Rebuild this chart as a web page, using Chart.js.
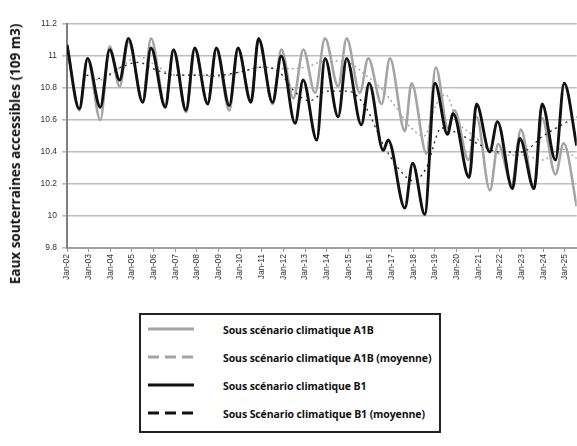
<!DOCTYPE html>
<html><head><meta charset="utf-8">
<script src="https://cdn.jsdelivr.net/npm/chart.js@4/dist/chart.umd.min.js"></script>
<style>
body{margin:0;width:577px;height:446px;background:#fff;position:relative;overflow:hidden;font-family:'Open Sans',sans-serif}
#wrap{position:absolute;left:0;top:0;width:577px;height:300px}
#ytitle{position:absolute;left:15px;top:154px;transform:translate(-50%,-50%) rotate(-90deg);white-space:nowrap;font-weight:700;font-size:13.5px;color:#111}
#legend{position:absolute;left:139px;top:313px;width:298px;height:116px;border:2px solid #222;background:#fff}
.row{position:absolute;left:0;width:298px;height:20px}
.row svg{position:absolute;left:7px;top:4px}
.row span{position:absolute;left:82px;top:2px;font-weight:700;font-size:10.5px;letter-spacing:-0.1px;color:#111;white-space:nowrap}
</style>
</head><body>
<div id="wrap"><canvas id="c" width="577" height="300"></canvas></div>
<div id="ytitle">Eaux souterraines accessibles (109 m3)</div>
<div id="legend"></div>
<script>
// ---- data (decimal years, values in 10^9 m3) ----
const tickLabels = ['Jan-02','Jan-03','Jan-04','Jan-05','Jan-06','Jan-07','Jan-08','Jan-09','Jan-10','Jan-11','Jan-12','Jan-13','Jan-14','Jan-15','Jan-16','Jan-17','Jan-18','Jan-19','Jan-20','Jan-21','Jan-22','Jan-23','Jan-24','Jan-25'];
const yTickLabels = ['9.8','10','10.2','10.4','10.6','10.8','11','11.2'];
const legendLabels = ['Sous scénario climatique A1B','Sous scénario climatique A1B (moyenne)','Sous scénario climatique B1','Sous Scénario climatique B1 (moyenne)'];

const a1bX = [2002.0,2002.57,2002.95,2003.54,2003.97,2004.43,2004.84,2005.5,2005.88,2006.54,2006.92,2007.5,2007.9,2008.5,2008.9,2009.5,2009.9,2010.5,2010.85,2011.5,2011.9,2012.46,2012.92,2013.46,2013.92,2014.53,2014.92,2015.53,2015.92,2016.54,2016.92,2017.61,2017.92,2018.61,2019.04,2019.6,2019.9,2020.55,2020.92,2021.54,2021.92,2022.55,2022.97,2023.58,2023.95,2024.57,2024.95,2025.55];
const a1bY = [11.07,10.66,10.98,10.60,11.06,10.81,11.09,10.72,11.11,10.69,11.03,10.65,11.04,10.71,11.04,10.66,11.04,10.72,11.10,10.70,11.04,10.735,11.04,10.77,11.11,10.81,11.11,10.77,10.985,10.70,10.985,10.53,10.83,10.39,10.93,10.55,10.66,10.35,10.62,10.16,10.45,10.20,10.54,10.17,10.61,10.26,10.455,10.06];

const b1X = [2002.0,2002.57,2002.95,2003.54,2003.97,2004.43,2004.84,2005.5,2005.88,2006.54,2006.92,2007.5,2007.9,2008.5,2008.9,2009.5,2009.9,2010.5,2010.85,2011.5,2011.9,2012.54,2012.91,2013.54,2013.92,2014.53,2014.92,2015.6,2015.96,2016.61,2016.84,2017.61,2017.97,2018.53,2019.0,2019.58,2019.84,2020.58,2020.92,2021.53,2021.89,2022.58,2022.92,2023.58,2023.95,2024.57,2024.97,2025.55];
const b1Y = [11.07,10.67,10.985,10.68,11.04,10.85,11.11,10.71,11.05,10.68,11.04,10.66,11.05,10.70,11.05,10.69,11.05,10.71,11.11,10.71,11.00,10.58,10.85,10.475,10.985,10.62,10.985,10.57,10.83,10.41,10.475,10.05,10.33,10.01,10.83,10.51,10.64,10.24,10.70,10.40,10.59,10.17,10.485,10.17,10.70,10.35,10.83,10.44];

const a1bMeanX = [2002.9,2003.5,2004.5,2005.3,2006,2007,2008,2009,2010,2011,2012,2013,2014,2015,2015.8,2016.5,2017.2,2017.9,2018.5,2019,2019.5,2020,2020.8,2021.5,2022.3,2023,2024,2024.8,2025.55];
const a1bMeanY = [10.88,10.85,10.93,11.0,10.95,10.88,10.88,10.87,10.9,10.93,10.92,10.93,10.97,10.96,10.88,10.8,10.68,10.55,10.5,10.68,10.76,10.6,10.5,10.42,10.38,10.38,10.35,10.42,10.36];

const b1MeanX = [2002.9,2003.5,2004.5,2005.3,2006,2007,2008,2009,2010,2011,2011.8,2012.5,2013.2,2014,2015,2015.8,2016.6,2017.3,2018.0,2018.6,2019.3,2020,2021,2022,2023,2024,2025,2025.55];
const b1MeanY = [10.88,10.86,10.93,10.96,10.92,10.88,10.88,10.88,10.9,10.93,10.9,10.78,10.72,10.78,10.78,10.68,10.45,10.3,10.22,10.3,10.55,10.52,10.45,10.4,10.4,10.5,10.58,10.62];

const pts = (xs, ys) => xs.map((x, i) => ({x, y: ys[i]}));

const styles = [
  {color:'#a4a4a4', dash:[], width:2.6, order:2},
  {color:'#a0a0a0', dash:[2,3], width:1.3, order:3},
  {color:'#111111', dash:[], width:2.9, order:0},
  {color:'#222222', dash:[2,4], width:1.3, order:1}
];
const series = [pts(a1bX,a1bY), pts(a1bMeanX,a1bMeanY), pts(b1X,b1Y), pts(b1MeanX,b1MeanY)];

new Chart(document.getElementById('c'), {
  type: 'line',
  data: {
    datasets: series.map((d, i) => ({
      label: legendLabels[i], data: d,
      borderColor: styles[i].color, borderDash: styles[i].dash, borderWidth: styles[i].width,
      order: styles[i].order, pointRadius: 0, fill: false,
      cubicInterpolationMode: 'monotone'
    }))
  },
  options: {
    animation: false, responsive: false, maintainAspectRatio: false,
    layout: {padding: {top: 24, left: 0, right: 0, bottom: 0}},
    plugins: {legend: {display: false}, tooltip: {enabled: false}},
    scales: {
      x: {
        type: 'linear', min: 2002, max: 2025.55,
        grid: {drawOnChartArea: false, drawTicks: true, tickLength: 4, color: '#999'},
        border: {color: '#a0a0a0', width: 2},
        ticks: {stepSize: 1, includeBounds: false, autoSkip: false, maxRotation: 90, minRotation: 90,
                font: {family: 'Liberation Sans', size: 8.5}, color: '#333', padding: 2,
                callback: (v) => tickLabels[Math.round(v) - 2002]},
        afterFit: (s) => { s.height = 52; }
      },
      y: {
        min: 9.8, max: 11.2,
        grid: {color: '#bdbdbd', lineWidth: 1.6, tickLength: 5, drawTicks: true},
        border: {color: '#808080', width: 2},
        ticks: {stepSize: 0.2, font: {family: 'Liberation Sans', size: 8.5}, color: '#333', padding: 5,
                callback: (v, i) => yTickLabels[i]},
        afterFit: (s) => { s.width = 67; }
      }
    }
  }
});

// HTML legend
const leg = document.getElementById('legend');
legendLabels.forEach((t, i) => {
  const r = document.createElement('div');
  r.className = 'row';
  r.style.top = (6 + i * 28) + 'px';
  const s = styles[i];
  const dash = s.dash.length ? 'stroke-dasharray="11 6"' : '';
  r.innerHTML = '<svg width="46" height="8"><line x1="0" y1="4" x2="46" y2="4" stroke="' + (i < 2 ? '#a4a4a4' : '#111') + '" stroke-width="3.2" ' + dash + '/></svg><span>' + t + '</span>';
  leg.appendChild(r);
});
</script>
</body></html>
